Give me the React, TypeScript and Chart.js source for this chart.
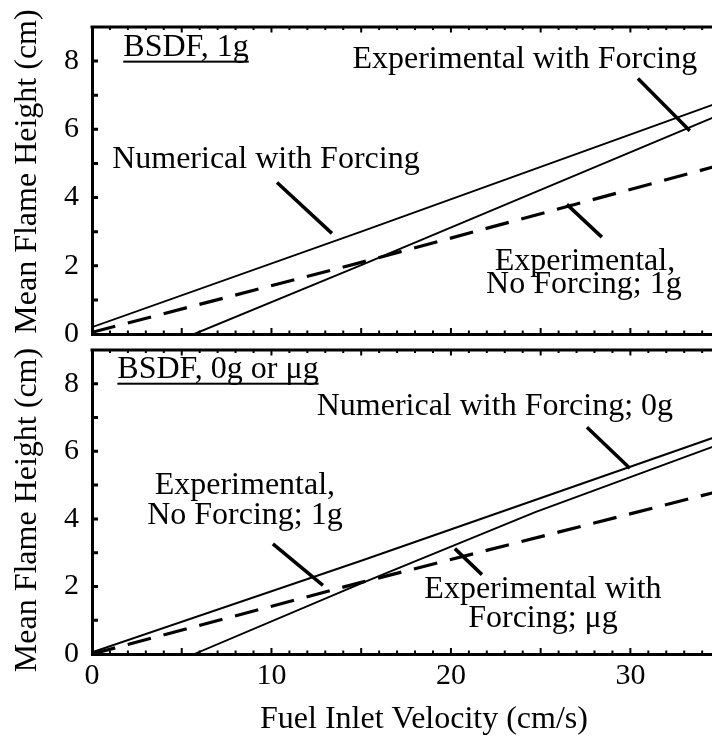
import React, { useEffect, useRef } from "react";
import { Chart, registerables } from "chart.js";

Chart.register(...registerables);

const FONT = "'Liberation Serif', 'Times New Roman', serif";

// Axis ranges and tick labels
const X_MIN = 0;
const X_MAX = 37;
const Y_MIN = 0;
const Y_MAX = 9;
const xTickValues = [0, 10, 20, 30];
const yTickValues = [0, 2, 4, 6, 8];
const yTitle = "Mean Flame Height (cm)";
const xTitle = "Fuel Inlet Velocity (cm/s)";

// Top panel: BSDF, 1g
const topNumX = [0, 15, 34.5, 37];
const topNumY = [0.2, 3.0, 6.7, 7.15];
const topExpForcX = [5.7, 15, 34.5, 37];
const topExpForcY = [0, 2.02, 6.32, 6.85];
const topExpNoForcX = [0, 15, 34.5, 37];
const topExpNoForcY = [0.05, 2.1, 4.88, 5.22];

// Bottom panel: BSDF, 0g or μg
const botNumX = [0, 15, 34.5, 37];
const botNumY = [0.05, 2.76, 6.38, 6.84];
const botExpForcX = [5.7, 15, 24.7, 34.5, 37];
const botExpForcY = [0, 2.09, 4.2, 6.12, 6.6];
const botExpNoForcX = [0, 15, 34.5, 37];
const botExpNoForcY = [0, 2.12, 4.76, 5.1];

// Annotation pointer strokes (data units): [x1, y1, x2, y2]
const topPointers = [
  [10.31, 4.44, 13.37, 2.95],
  [30.42, 7.49, 33.31, 5.96],
  [26.46, 3.8, 28.41, 2.84],
];
const botPointers = [
  [27.58, 6.71, 29.97, 5.5],
  [10.08, 3.26, 12.87, 2.03],
  [21.73, 2.35, 20.22, 3.12],
];

// Annotation texts (centre x, baseline y in data units)
const topLabels = [
  { text: "BSDF, 1g", x: 5.24, y: 8.16, underline: true },
  { text: "Experimental with Forcing", x: 24.12, y: 7.81 },
  { text: "Numerical with Forcing", x: 9.69, y: 4.88 },
  { text: "Experimental,", x: 27.47, y: 1.87 },
  { text: "No Forcing; 1g", x: 27.41, y: 1.2 },
];
const botLabels = [
  { text: "BSDF, 0g or \u03BCg", x: 7.02, y: 8.18, underline: true },
  { text: "Numerical with Forcing; 0g", x: 22.45, y: 7.09 },
  { text: "Experimental,", x: 8.52, y: 4.74 },
  { text: "No Forcing; 1g", x: 8.52, y: 3.85 },
  { text: "Experimental with", x: 25.13, y: 1.65 },
  { text: "Forcing; \u03BCg", x: 25.13, y: 0.79 },
];

const pts = (xs: number[], ys: number[]) => xs.map((x, i) => ({ x, y: ys[i] }));

const solid = (data: any[]) => ({
  data,
  borderColor: "#000",
  borderWidth: 1.9,
  pointRadius: 0,
  tension: 0,
});
const dashed = (data: any[]) => ({
  data,
  borderColor: "#000",
  borderWidth: 3.2,
  borderDash: [24, 13],
  pointRadius: 0,
  tension: 0,
});
const pointerSets = (ps: number[][]) =>
  ps.map((p) => ({
    data: [
      { x: p[0], y: p[1] },
      { x: p[2], y: p[3] },
    ],
    borderColor: "#000",
    borderWidth: 3.5,
    pointRadius: 0,
    borderCapStyle: "butt",
    clip: false,
  }));

const framePlugin = (labels: any[], titleShift: number) => ({
  id: "frameAndLabels",
  afterDatasetsDraw(chart: any) {
    const { ctx, chartArea } = chart;
    const xs = chart.scales.x;
    const ys = chart.scales.y;
    ctx.save();
    ctx.strokeStyle = "#000";
    ctx.fillStyle = "#000";
    // top frame line
    ctx.lineWidth = 3;
    ctx.beginPath();
    ctx.moveTo(chartArea.left - 1.5, chartArea.top);
    ctx.lineTo(chartArea.right + 10, chartArea.top);
    ctx.stroke();
    // inner ticks
    ctx.lineWidth = 2;
    ctx.beginPath();
    for (let v = 1; v < X_MAX; v++) {
      const px = xs.getPixelForValue(v);
      const len = v % 5 === 0 ? 6 : 3.5;
      ctx.moveTo(px, chartArea.bottom);
      ctx.lineTo(px, chartArea.bottom - len);
      ctx.moveTo(px, chartArea.top);
      ctx.lineTo(px, chartArea.top + len - 0.5);
    }
    ctx.stroke();
    ctx.lineWidth = 3;
    ctx.beginPath();
    for (let v = 1; v < Y_MAX; v++) {
      const py = ys.getPixelForValue(v);
      ctx.moveTo(chartArea.left, py);
      ctx.lineTo(chartArea.left + 6, py);
    }
    ctx.stroke();
    // labels
    ctx.font = `32px ${FONT}`;
    ctx.textAlign = "center";
    ctx.textBaseline = "alphabetic";
    labels.forEach((l) => {
      const cx = xs.getPixelForValue(l.x);
      const by = ys.getPixelForValue(l.y);
      ctx.fillText(l.text, cx, by);
      if (l.underline) {
        const w = ctx.measureText(l.text).width;
        ctx.fillRect(cx - w / 2, by + 5, w, 2);
      }
    });
    // y-axis title
    const cy = (chartArea.top + chartArea.bottom) / 2 + titleShift;
    ctx.translate(ys.left + 28, cy);
    ctx.rotate(-Math.PI / 2);
    ctx.textBaseline = "middle";
    ctx.fillText(yTitle, 0, 0);
    ctx.restore();
  },
});

function makeOptions(bottomPanel: boolean) {
  return {
    responsive: false,
    animation: false,
    events: [],
    layout: {
      autoPadding: false,
      padding: bottomPanel
        ? { top: 10, right: 24, bottom: 0, left: 0 }
        : { top: 27, right: 24, bottom: 26, left: 0 },
    },
    plugins: { legend: { display: false }, tooltip: { enabled: false } },
    scales: {
      x: {
        type: "linear",
        min: X_MIN,
        max: X_MAX,
        afterBuildTicks: (s: any) => {
          s.ticks = xTickValues.map((v) => ({ value: v }));
        },
        afterFit: (s: any) => {
          s.height = bottomPanel ? 86 : 0;
          s.paddingLeft = 0;
          s.paddingRight = 0;
        },
        grid: { display: false, drawTicks: false },
        border: { display: true, color: "#000", width: 3 },
        ticks: {
          display: bottomPanel,
          color: "#000",
          padding: 4,
          font: { family: FONT, size: 30 },
        },
        title: {
          display: bottomPanel,
          text: xTitle,
          color: "#000",
          font: { family: FONT, size: 32 },
          padding: { top: 0, bottom: 1 },
        },
      },
      y: {
        type: "linear",
        min: Y_MIN,
        max: Y_MAX,
        afterBuildTicks: (s: any) => {
          s.ticks = yTickValues.map((v) => ({ value: v }));
        },
        afterFit: (s: any) => {
          s.width = 92;
          s.paddingTop = 0;
          s.paddingBottom = 0;
        },
        grid: { display: false, drawTicks: false },
        border: { display: true, color: "#000", width: 3 },
        ticks: {
          color: "#000",
          padding: 13,
          font: { family: FONT, size: 30 },
        },
        title: { display: false },
      },
    },
  } as any;
}

export default function App() {
  const topRef = useRef<HTMLCanvasElement | null>(null);
  const botRef = useRef<HTMLCanvasElement | null>(null);

  useEffect(() => {
    const top = new Chart(topRef.current as HTMLCanvasElement, {
      type: "line",
      data: {
        datasets: [
          solid(pts(topNumX, topNumY)),
          solid(pts(topExpForcX, topExpForcY)),
          dashed(pts(topExpNoForcX, topExpNoForcY)),
          ...pointerSets(topPointers),
        ] as any,
      },
      options: makeOptions(false),
      plugins: [framePlugin(topLabels, -9)],
    });
    const bot = new Chart(botRef.current as HTMLCanvasElement, {
      type: "line",
      data: {
        datasets: [
          solid(pts(botNumX, botNumY)),
          solid(pts(botExpForcX, botExpForcY)),
          dashed(pts(botExpNoForcX, botExpNoForcY)),
          ...pointerSets(botPointers),
        ] as any,
      },
      options: makeOptions(true),
      plugins: [framePlugin(botLabels, 8)],
    });
    return () => {
      top.destroy();
      bot.destroy();
    };
  }, []);

  return (
    <div
      style={{
        position: "fixed",
        left: 0,
        top: 0,
        width: 712,
        height: 736,
        overflow: "hidden",
        background: "#fff",
      }}
    >
      <canvas
        ref={topRef}
        width={780}
        height={360}
        style={{ position: "absolute", left: 0, top: 0, width: 780, height: 360 }}
      />
      <canvas
        ref={botRef}
        width={780}
        height={400}
        style={{ position: "absolute", left: 0, top: 340, width: 780, height: 400 }}
      />
    </div>
  );
}
